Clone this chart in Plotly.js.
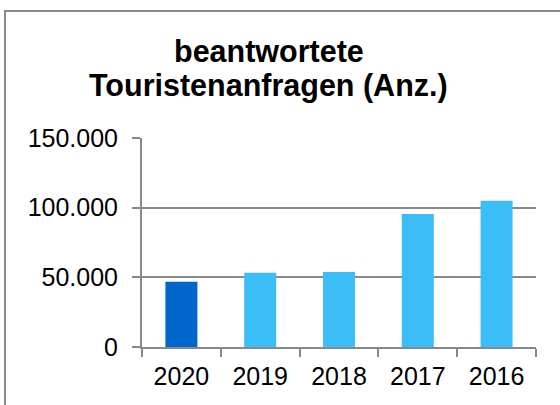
<!DOCTYPE html>
<html>
<head>
<meta charset="utf-8">
<script src="https://cdn.plot.ly/plotly-3.0.1.min.js"></script>
<style>
  html, body { margin: 0; padding: 0; background: #fff; }
  #wrap { position: relative; width: 560px; height: 405px; overflow: hidden; }
  #frame { position: absolute; left: 4px; top: 10px; width: 700px; height: 600px;
           border: 2px solid #888; box-sizing: border-box; pointer-events: none; }
  #chart { position: absolute; left: 0; top: 0; width: 560px; height: 405px; }
</style>
</head>
<body>
<div id="wrap">
  <div id="chart"></div>
  <div id="frame"></div>
</div>
<script>
const categories = ["2020", "2019", "2018", "2017", "2016"];
const values = [46800, 53200, 53900, 95400, 104900];
const barColors = ["#0066CC", "#3BBEF8", "#3BBEF8", "#3BBEF8", "#3BBEF8"];
const yTicks = [0, 50000, 100000, 150000];
const yTickLabels = ["0", "50.000", "100.000", "150.000"];
const titleLines = ["beantwortete", "Touristenanfragen (Anz.)"];

const font = "Liberation Sans, Arial, sans-serif";
const titleY = [1.326, 1.16];

Plotly.newPlot("chart", [{
  type: "bar",
  x: categories,
  y: values,
  marker: { color: barColors },
  hoverinfo: "x+y"
}], {
  width: 560,
  height: 405,
  margin: { l: 142, r: 24, t: 137.5, b: 57.5 },
  paper_bgcolor: "#fff",
  plot_bgcolor: "#fff",
  bargap: 0.594,
  showlegend: false,
  annotations: titleLines.map((t, i) => ({
    text: "<b>" + t + "</b>",
    font: { family: font, size: 30.5, color: "#000" },
    xref: "paper", yref: "paper",
    x: 0.3223, xanchor: "center",
    y: titleY[i], yanchor: "bottom",
    showarrow: false, align: "center"
  })),
  xaxis: {
    type: "category",
    showgrid: false,
    showline: true, linecolor: "#888", linewidth: 2,
    ticks: "outside", ticklen: 8, tickwidth: 2, tickcolor: "#888",
    tickson: "boundaries",
    tickfont: { family: font, size: 25, color: "#000" },
    ticklabelstandoff: 6,
    zeroline: false
  },
  yaxis: {
    range: [0, 150000],
    tickvals: yTicks,
    ticktext: yTickLabels,
    showgrid: true, gridcolor: "#888", gridwidth: 2,
    showline: true, linecolor: "#888", linewidth: 2,
    ticks: "outside", ticklen: 8, tickwidth: 2, tickcolor: "#888",
    tickfont: { family: font, size: 25, color: "#000" },
    ticklabelstandoff: 9,
    zeroline: false
  }
}, { displayModeBar: false, staticPlot: true });
</script>
</body>
</html>
